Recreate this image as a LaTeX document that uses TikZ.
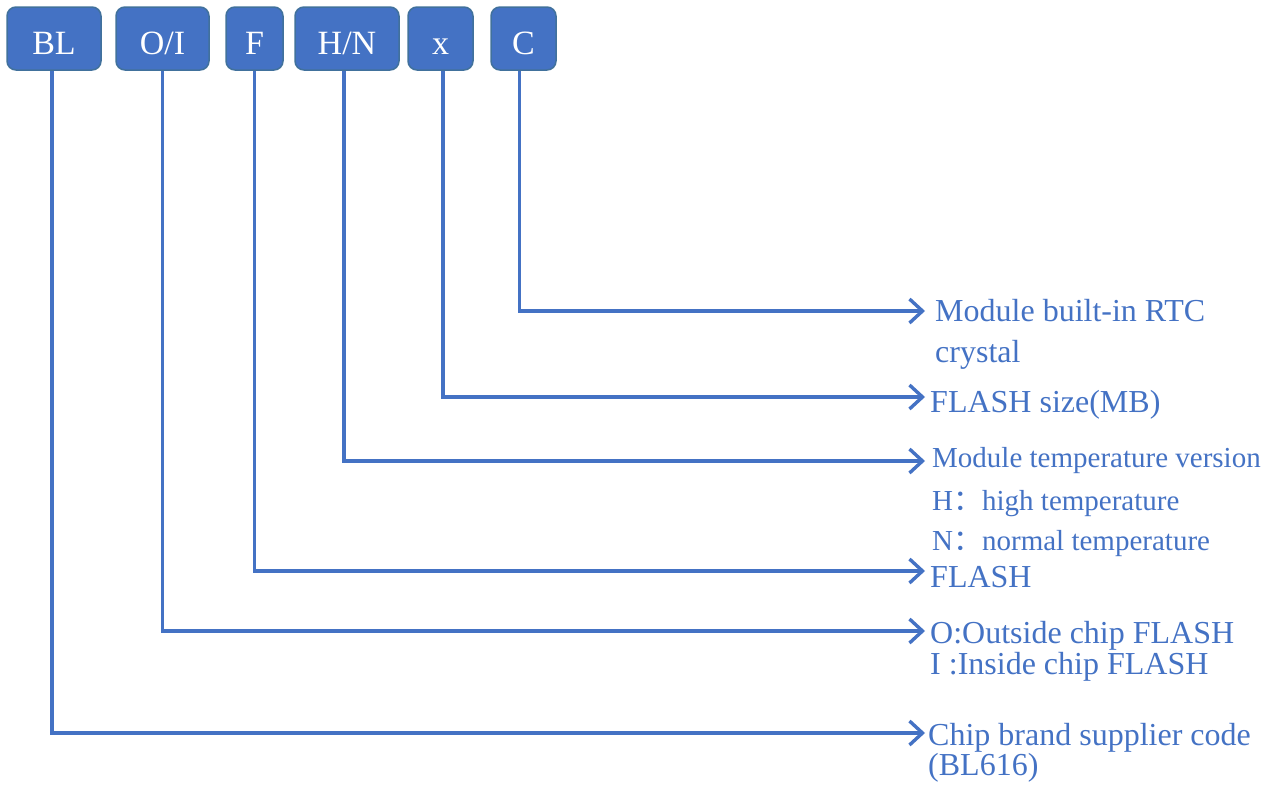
\documentclass[tikz,border=0pt]{standalone}
\usepackage{fontspec}
\setmainfont{Liberation Serif}
\newfontfamily\cjk{Noto Sans CJK SC}
\usetikzlibrary{arrows.meta}
\definecolor{mblue}{HTML}{4472C4}
\definecolor{mborder}{HTML}{41719C}
\begin{document}
\begin{tikzpicture}[x=1pt,y=-1pt,
  codebox/.style={draw=mborder,line width=1.5pt,fill=mblue,rounded corners=9pt,
    minimum height=63pt,inner sep=0pt,text=white,text height=31pt,text depth=0pt,
    font=\fontsize{34}{40}\selectfont},
  conn/.style={draw=mblue,line width=3.4pt,-{Straight Barb[length=13pt,width=24pt]}},
  lbl/.style={anchor=base west,inner sep=0pt,text=mblue,font=\fontsize{32}{38}\selectfont},
  lbls/.style={lbl,font=\fontsize{29}{35}\selectfont}]
\useasboundingbox (0,0) rectangle (1278,787);
% boxes
\node[codebox,minimum width=94pt] (bl) at (54,38.5) {BL};
\node[codebox,minimum width=93pt] (oi) at (162.5,38.5) {O/I};
\node[codebox,minimum width=57pt] (f) at (254.5,38.5) {F};
\node[codebox,minimum width=104pt] (hn) at (347,38.5) {H/N};
\node[codebox,minimum width=65pt] (x) at (440.5,38.5) {x};
\node[codebox,minimum width=65pt] (c) at (523.5,38.5) {C};
% arrow end points
\coordinate (tc) at (925,311);
\coordinate (tx) at (925,397);
\coordinate (thn) at (925,461);
\coordinate (tf) at (925,571);
\coordinate (toi) at (925,631);
\coordinate (tbl) at (925,733);
% connectors
\draw[conn] ([xshift=-4pt]c.south) |- (tc);
\draw[conn] ([xshift=2.5pt]x.south) |- (tx);
\draw[conn] ([xshift=-3pt]hn.south) |- (thn);
\draw[conn] (f.south) |- (tf);
\draw[conn] (oi.south) |- (toi);
\draw[conn] ([xshift=-2pt]bl.south) |- (tbl);
% labels
\node[lbl] (lc1) at (935,321) {Module built-in RTC};
\node[lbl] (lc2) at (935,362) {crystal};
\node[lbl] (lx) at (930,412) {FLASH size(MB)};
\node[lbls] (lhn1) at (932,467) {Module temperature version};
\node[lbls] (lhn2) at (932,510) {H{\cjk ：}high temperature};
\node[lbls] (lhn3) at (932,550) {N{\cjk ：}normal temperature};
\node[lbl] (lf) at (930,587) {FLASH};
\node[lbl] (loi1) at (930,643) {O:Outside chip FLASH};
\node[lbl] (loi2) at (930,674) {I :Inside chip FLASH};
\node[lbl] (lbl1) at (928,745) {Chip brand supplier code};
\node[lbl] (lbl2) at (928,775) {(BL616)};
\end{tikzpicture}
\end{document}
